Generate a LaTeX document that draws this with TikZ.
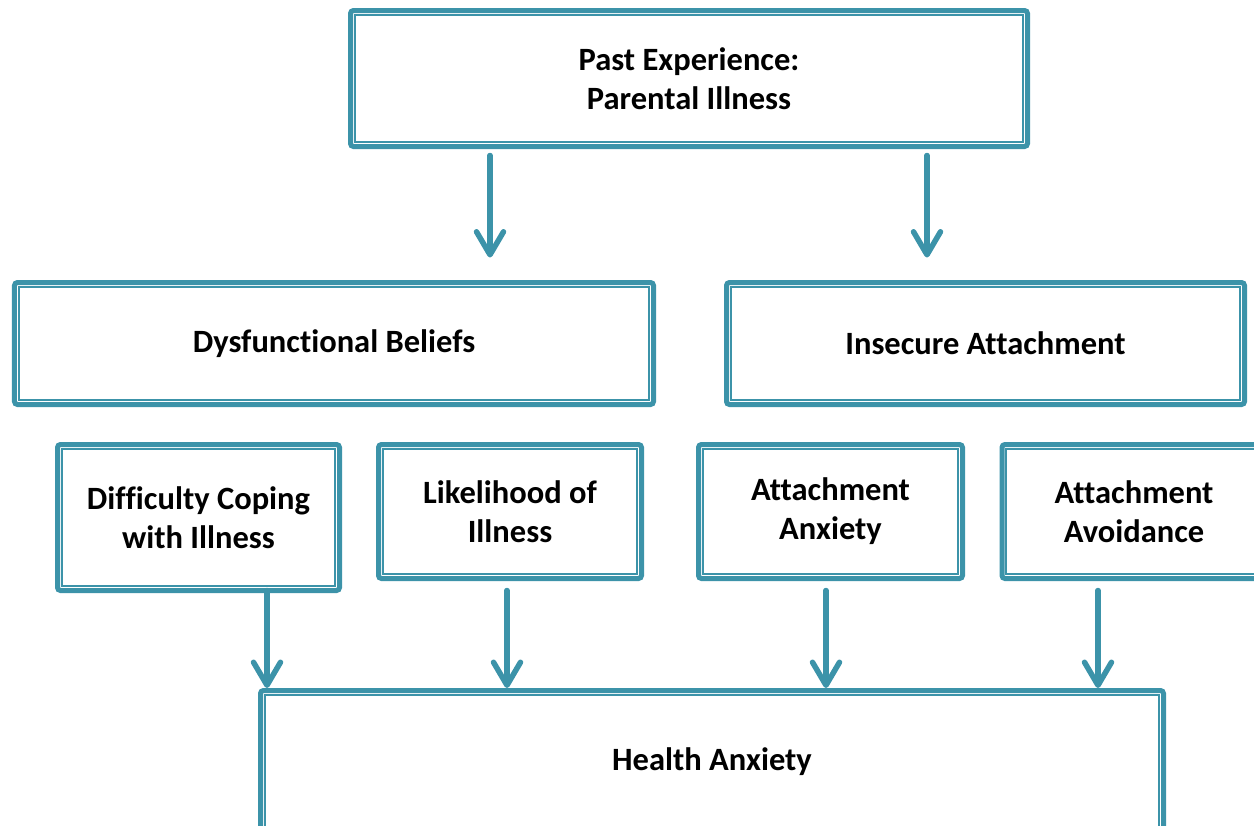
\documentclass[tikz,border=0pt]{standalone}
\usepackage{fontspec}
\setmainfont{Carlito}[Ligatures={NoCommon,NoContextual,NoRare}]
\usetikzlibrary{arrows.meta,positioning}
\definecolor{frameteal}{HTML}{3C93A9}

\begin{document}
\begin{tikzpicture}[
  font=\fontsize{18.5}{22.2}\selectfont\bfseries,
  box/.style={draw=frameteal, line width=0.1cm, rounded corners=0.06cm,
    fill=white, align=center, inner sep=0pt},
  rim/.style={draw=frameteal, line width=0.035cm},
  flow/.style={-{Straight Barb[length=4.6mm, width=5.4mm, round]}, line width=0.11cm,
    line cap=round, draw=frameteal}
]
\useasboundingbox (0,0) rectangle (25.08,-16.5);
% top level
\node[box, minimum width=13.54cm, minimum height=2.72cm] (past) at (13.78,-1.57)
  {Past Experience:\\Parental Illness};
% middle level
\node[box, minimum width=12.78cm, minimum height=2.44cm] (beliefs) at (6.68,-6.87)
  {Dysfunctional Beliefs};
\node[box, minimum width=10.36cm, minimum height=2.44cm] (insecure) at (19.71,-6.87)
  {Insecure Attachment};
% facets
\node[box, minimum width=5.64cm, minimum height=2.92cm] (coping) at (3.97,-10.35)
  {Difficulty Coping\\with Illness};
\node[box, minimum width=5.26cm, minimum height=2.68cm] (likely) at (10.2,-10.23)
  {Likelihood of\\Illness};
\node[box, minimum width=5.28cm, minimum height=2.68cm] (anxiety) at (16.61,-10.23)
  {Attachment\\Anxiety};
\node[box, minimum width=5.28cm, minimum height=2.68cm] (avoid) at (22.68,-10.23)
  {Attachment\\Avoidance};
% outcome
\node[box, minimum width=18.06cm, minimum height=2.86cm] (health) at (14.24,-15.24)
  {Health Anxiety};
\foreach \nd in {past,beliefs,insecure,coping,likely,anxiety,avoid,health}
  \draw[rim] ([xshift=0.135cm, yshift=0.135cm]\nd.south west) rectangle ([xshift=-0.135cm, yshift=-0.135cm]\nd.north east);

\draw[flow] ([xshift=-3.98cm, yshift=-0.13cm]past.south) -- ([xshift=-3.98cm, yshift=0.45cm]past.south |- beliefs.north);
\draw[flow] ([xshift=4.76cm, yshift=-0.13cm]past.south) -- ([xshift=4.76cm, yshift=0.45cm]past.south |- insecure.north);
\draw[flow] ([xshift=1.37cm, yshift=0.05cm]coping.south) -- ([xshift=1.37cm]coping.south |- health.north);
\draw[flow] ([xshift=-0.06cm, yshift=-0.19cm]likely.south) -- ([xshift=-0.06cm]likely.south |- health.north);
\draw[flow] ([xshift=-0.09cm, yshift=-0.19cm]anxiety.south) -- ([xshift=-0.09cm]anxiety.south |- health.north);
\draw[flow] ([xshift=-0.72cm, yshift=-0.19cm]avoid.south) -- ([xshift=-0.72cm]avoid.south |- health.north);
\end{tikzpicture}
\end{document}
